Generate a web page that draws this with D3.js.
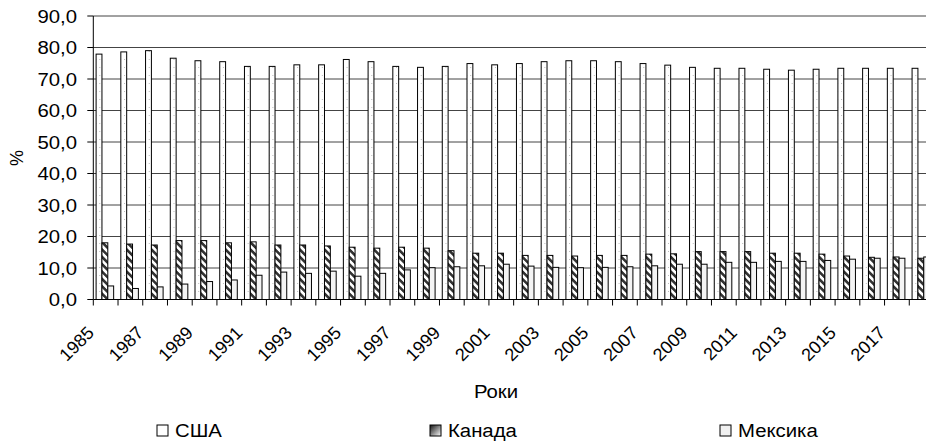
<!DOCTYPE html>
<html>
<head>
<meta charset="utf-8">
<script src="https://cdn.jsdelivr.net/npm/d3@7"></script>
<style>
  body { margin: 0; background: #fff; }
  text { font-family: "Liberation Sans", Arial, sans-serif; fill: #000; }
</style>
</head>
<body>
<div id="chart"></div>
<script>
// Years on the x axis
const years = [1985, 1986, 1987, 1988, 1989, 1990, 1991, 1992, 1993, 1994,
  1995, 1996, 1997, 1998, 1999, 2000, 2001, 2002, 2003, 2004,
  2005, 2006, 2007, 2008, 2009, 2010, 2011, 2012, 2013, 2014,
  2015, 2016, 2017, 2018];

// Shares, %
const usa = [77.9, 78.6, 79.0, 76.6, 75.8, 75.5, 74.0, 74.0, 74.5, 74.5,
  76.2, 75.5, 74.0, 73.7, 74.0, 74.9, 74.5, 74.9, 75.5, 75.8,
  75.8, 75.5, 74.9, 74.4, 73.7, 73.4, 73.4, 73.1, 72.8, 73.1,
  73.4, 73.4, 73.4, 73.4];
const canada = [18.0, 17.6, 17.3, 18.7, 18.7, 18.0, 18.3, 17.3, 17.3, 17.0,
  16.6, 16.3, 16.6, 16.3, 15.5, 14.7, 14.7, 14.0, 14.0, 13.8,
  14.0, 14.0, 14.4, 14.5, 15.2, 15.2, 15.2, 14.7, 14.7, 14.4,
  13.8, 13.4, 13.5, 13.1];
const mexico = [4.3, 3.5, 4.0, 4.9, 5.7, 6.2, 7.7, 8.7, 8.3, 9.0,
  7.4, 8.3, 9.4, 10.1, 10.4, 10.7, 11.2, 10.6, 10.2, 10.1,
  10.2, 10.4, 10.7, 11.2, 11.2, 11.8, 11.8, 12.1, 12.1, 12.4,
  12.8, 13.1, 13.1, 13.5];

const seriesNames = ["США", "Канада", "Мексика"];
const yTicks = [0, 10, 20, 30, 40, 50, 60, 70, 80, 90];

const width = 926, height = 443;
const plotLeft = 93.3, plotRight = 934, plotTop = 16, plotBottom = 299.5;
const sx = 1.13; // the text in the picture is a bit wide

const svg = d3.select("#chart").append("svg")
  .attr("width", width)
  .attr("height", height);

svg.append("rect").attr("width", width).attr("height", height).attr("fill", "#fff");

// patterns
const defs = svg.append("defs");
const dots = defs.append("pattern")
  .attr("id", "dots")
  .attr("patternUnits", "userSpaceOnUse")
  .attr("width", 4).attr("height", 8);
dots.append("rect").attr("width", 4).attr("height", 8).attr("fill", "#fff");
dots.append("rect").attr("x", 2).attr("y", 3).attr("width", 1).attr("height", 1).attr("fill", "#bbb");

const stripes = defs.append("pattern")
  .attr("id", "stripes")
  .attr("patternUnits", "userSpaceOnUse")
  .attr("width", 5.2).attr("height", 5.2)
  .attr("patternTransform", "rotate(-45)");
stripes.append("rect").attr("width", 5.2).attr("height", 5.2).attr("fill", "#fff");
stripes.append("rect").attr("width", 2.6).attr("height", 5.2).attr("fill", "#333");

const grad = defs.append("linearGradient")
  .attr("id", "legGrad")
  .attr("x1", 0).attr("y1", 0).attr("x2", 1).attr("y2", 1);
grad.append("stop").attr("offset", "0%").attr("stop-color", "#111");
grad.append("stop").attr("offset", "100%").attr("stop-color", "#fff");

const fills = ["url(#dots)", "url(#stripes)", "#f4f4f4"];
const legendFills = ["#fff", "url(#legGrad)", "#f0f0f0"];

// scales
const x0 = d3.scaleBand().domain(years).range([plotLeft, plotRight]).padding(0);
const x1 = d3.scaleBand().domain(seriesNames)
  .range([2.8, 2.8 + 3 * 5.85]).padding(0);
const y = d3.scaleLinear().domain([0, 90]).range([plotBottom, plotTop]);

// gridlines
svg.append("g")
  .selectAll("line")
  .data(yTicks.slice(1))
  .join("line")
  .attr("x1", plotLeft).attr("x2", width)
  .attr("y1", d => y(d)).attr("y2", d => y(d))
  .attr("stroke", "#444")
  .attr("stroke-width", 1);

// bars
const rows = years.map((yr, i) => ({
  year: yr,
  values: [usa[i], canada[i], mexico[i]]
}));

svg.append("g")
  .selectAll("g")
  .data(rows)
  .join("g")
  .attr("transform", d => `translate(${x0(d.year)},0)`)
  .selectAll("rect")
  .data(d => d.values.map((v, k) => ({ name: seriesNames[k], k, v })))
  .join("rect")
  .attr("x", d => x1(d.name))
  .attr("y", d => y(d.v))
  .attr("width", x1.bandwidth())
  .attr("height", d => y(0) - y(d.v))
  .attr("fill", d => fills[d.k])
  .attr("stroke", "#000")
  .attr("stroke-width", 1);

// y axis
const yAxis = svg.append("g");
yAxis.append("line")
  .attr("x1", plotLeft).attr("x2", plotLeft)
  .attr("y1", plotTop).attr("y2", plotBottom)
  .attr("stroke", "#000");
yAxis.selectAll("line.tick")
  .data(yTicks)
  .join("line")
  .attr("class", "tick")
  .attr("x1", plotLeft - 6).attr("x2", plotLeft)
  .attr("y1", d => y(d)).attr("y2", d => y(d))
  .attr("stroke", "#000");
yAxis.selectAll("text")
  .data(yTicks)
  .join("text")
  .attr("transform", d => `translate(77,${y(d) + 6.5}) scale(${sx},1)`)
  .attr("text-anchor", "end")
  .style("font-size", "18px")
  .text(d => d3.format(".1f")(d).replace(".", ","));

// x axis
const xAxis = svg.append("g");
xAxis.append("line")
  .attr("x1", plotLeft).attr("x2", width)
  .attr("y1", plotBottom).attr("y2", plotBottom)
  .attr("stroke", "#000");
xAxis.selectAll("line.tick")
  .data(years)
  .join("line")
  .attr("class", "tick")
  .attr("x1", d => x0(d)).attr("x2", d => x0(d))
  .attr("y1", plotBottom).attr("y2", plotBottom + 6)
  .attr("stroke", "#000");
xAxis.selectAll("text")
  .data(years.filter((d, i) => i % 2 === 0))
  .join("text")
  .attr("transform", d =>
    `translate(${x0(d) + x0.bandwidth() / 2 - 10.5},334) rotate(-45)`)
  .attr("text-anchor", "end")
  .style("font-size", "18px")
  .text(d => d);

// axis titles
svg.append("text")
  .attr("transform", `translate(496,398) scale(${sx},1)`)
  .attr("text-anchor", "middle")
  .style("font-size", "18px")
  .text("Роки");

svg.append("text")
  .attr("transform", `translate(23,158) rotate(-90)`)
  .attr("text-anchor", "middle")
  .style("font-size", "18px")
  .text("%");

// legend
const legendX = [157, 430, 720];
const legend = svg.append("g")
  .selectAll("g")
  .data(seriesNames)
  .join("g")
  .attr("transform", (d, i) => `translate(${legendX[i]},425)`);
legend.append("rect")
  .attr("width", 11).attr("height", 11)
  .attr("fill", (d, i) => legendFills[i])
  .attr("stroke", "#000");
legend.append("text")
  .attr("transform", `translate(18,11.5) scale(${sx},1)`)
  .style("font-size", "18px")
  .text(d => d);
</script>
</body>
</html>
